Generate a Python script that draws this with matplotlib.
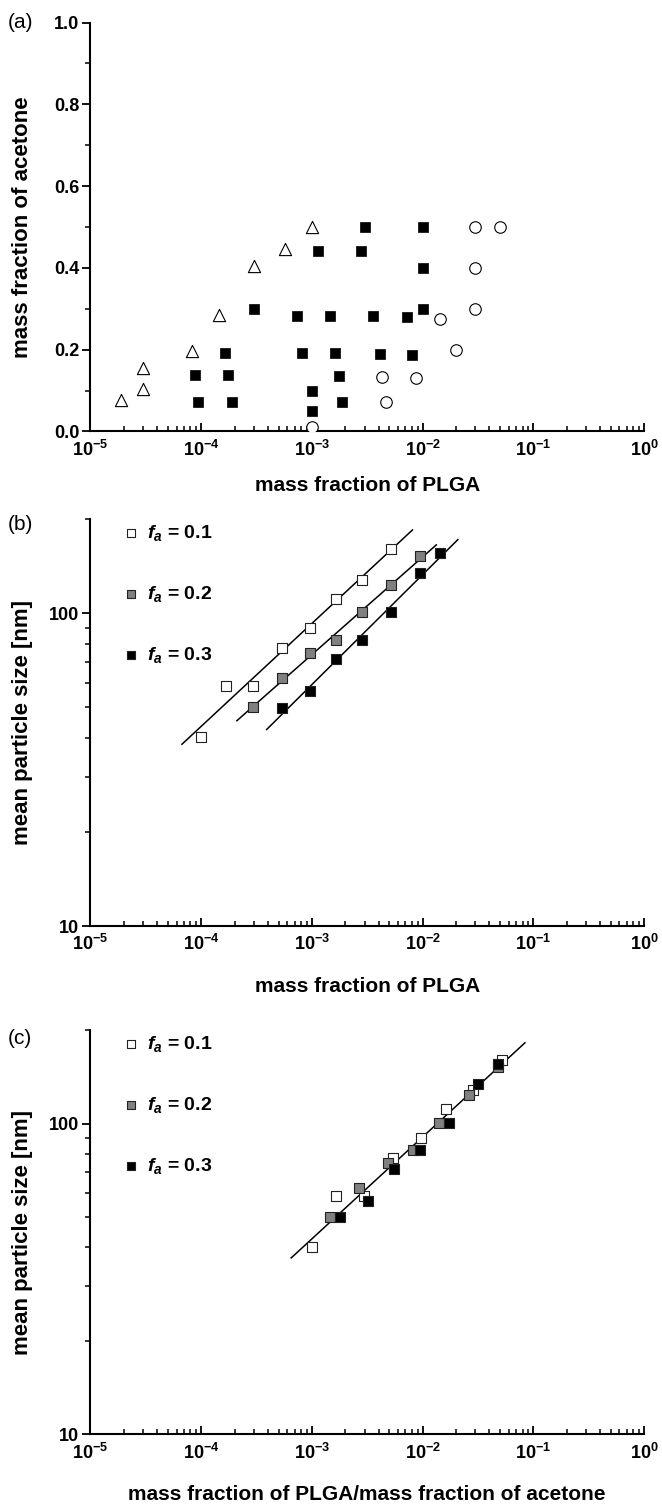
import numpy as np
import matplotlib
matplotlib.use('Agg')
import matplotlib.pyplot as plt
from matplotlib.ticker import LogLocator, FuncFormatter, MultipleLocator, NullFormatter

plt.rcParams['font.family'] = 'Liberation Sans'
plt.rcParams['font.weight'] = 'bold'
plt.rcParams['mathtext.fontset'] = 'custom'
plt.rcParams['mathtext.rm'] = 'Liberation Sans:bold'
plt.rcParams['mathtext.bf'] = 'Liberation Sans:bold'
plt.rcParams['mathtext.it'] = 'Liberation Sans:italic:bold'

# (a) phase diagram
tri_x = [1.9e-5, 3.0e-5, 3.0e-5, 8.2e-5, 1.46e-4, 3.0e-4, 5.7e-4, 1.0e-3]
tri_y = [0.077, 0.103, 0.155, 0.196, 0.286, 0.404, 0.447, 0.50]

sq_x = [3.0e-3, 1.0e-2, 1.13e-3, 2.8e-3, 1.0e-2, 3.0e-4, 7.3e-4, 1.45e-3,
        3.6e-3, 7.2e-3, 1.0e-2, 1.64e-4, 8.2e-4, 1.63e-3, 4.1e-3, 8.1e-3,
        8.8e-5, 1.75e-4, 1.75e-3, 9.4e-5, 1.88e-4, 1.87e-3, 1.0e-3, 1.0e-3]
sq_y = [0.50, 0.50, 0.441, 0.441, 0.40, 0.30, 0.283, 0.283,
        0.283, 0.28, 0.30, 0.192, 0.191, 0.191, 0.19, 0.187,
        0.137, 0.137, 0.136, 0.073, 0.073, 0.073, 0.10, 0.049]

circ_x = [3.0e-2, 5.0e-2, 3.0e-2, 3.0e-2, 1.45e-2, 2.0e-2, 4.3e-3, 8.7e-3, 4.7e-3, 1.0e-3]
circ_y = [0.50, 0.50, 0.40, 0.30, 0.275, 0.20, 0.133, 0.13, 0.071, 0.01]

# (b) particle size vs PLGA fraction
fa = [0.1, 0.2, 0.3]
x_f1 = [1.0e-4, 1.66e-4, 2.93e-4, 5.38e-4, 9.7e-4, 1.64e-3, 2.84e-3, 5.22e-3]
y_f1 = [40.2, 58.5, 58.5, 77.3, 90.0, 111.4, 127.8, 160.6]
x_f2 = [2.93e-4, 5.38e-4, 9.7e-4, 1.64e-3, 2.84e-3, 5.22e-3, 9.55e-3]
y_f2 = [50.1, 62.2, 74.5, 82.2, 100.7, 123.2, 152.5]
x_f3 = [5.38e-4, 9.7e-4, 1.64e-3, 2.84e-3, 5.22e-3, 9.55e-3, 1.45e-2]
y_f3 = [49.9, 56.5, 71.5, 82.2, 100.7, 134.2, 155.9]

# x extent of the fitted lines
b_line_x = [(6.7e-5, 8.1e-3), (2.1e-4, 1.33e-2), (3.9e-4, 2.08e-2)]
c_line_x = (6.5e-4, 8.4e-2)

xs = [x_f1, x_f2, x_f3]
ys = [y_f1, y_f2, y_f3]
faces = ['white', '#808080', 'black']
labels = [r'$\mathit{f}_{\mathit{a}}$ = %.1f' % f for f in fa]

fig = plt.figure(figsize=(6.62, 15.07), dpi=100)
ax_a = fig.add_axes([0.1367, 0.7137, 0.8361, 0.2713])
ax_b = fig.add_axes([0.1367, 0.3855, 0.8361, 0.2701])
ax_c = fig.add_axes([0.1367, 0.0482, 0.8361, 0.2683])

dec_fmt = FuncFormatter(lambda v, p: r'$\mathbf{10^{%d}}$' % int(round(np.log10(v))))


def style(ax):
    ax.spines['top'].set_visible(False)
    ax.spines['right'].set_visible(False)
    for s in ['left', 'bottom']:
        ax.spines[s].set_linewidth(1.5)
    ax.set_xscale('log')
    ax.set_xlim(1e-5, 1)
    ax.xaxis.set_major_locator(LogLocator(base=10, numticks=10))
    ax.xaxis.set_minor_locator(LogLocator(base=10, subs=np.arange(2, 10), numticks=10))
    ax.xaxis.set_major_formatter(dec_fmt)
    ax.xaxis.set_minor_formatter(NullFormatter())
    ax.tick_params(axis='x', which='major', direction='in', length=6, width=1.3,
                   labelsize=13, pad=6)
    ax.tick_params(axis='x', which='minor', direction='in', length=3.5, width=1.1)
    ax.tick_params(axis='y', which='major', direction='out', length=6, width=1.3,
                   labelsize=13, pad=2)
    ax.tick_params(axis='y', which='minor', direction='out', length=3.5, width=1.1)


# panel (a)
style(ax_a)
ax_a.scatter(tri_x, tri_y, marker='^', s=8.8**2, facecolor='white', edgecolor='black', linewidth=0.8, zorder=3)
ax_a.scatter(sq_x, sq_y, marker='s', s=7.9**2, facecolor='black', edgecolor='black', linewidth=0.5, zorder=3)
ax_a.scatter(circ_x, circ_y, marker='o', s=8.3**2, facecolor='white', edgecolor='black', linewidth=0.8, zorder=3)
ax_a.set_ylim(0, 1.0)
ax_a.yaxis.set_major_locator(MultipleLocator(0.2))
ax_a.yaxis.set_minor_locator(MultipleLocator(0.1))
ax_a.yaxis.set_major_formatter(FuncFormatter(lambda v, p: '%.1f' % v))
ax_a.set_xlabel('mass fraction of PLGA', fontsize=15, fontweight='bold')
ax_a.set_ylabel('mass fraction of acetone', fontsize=16, fontweight='bold')
ax_a.xaxis.set_label_coords(0.5, -0.11)
ax_a.yaxis.set_label_coords(-0.103, 0.5)


def size_panel(ax, xlist, line_ranges, xlabel):
    style(ax)
    ax.set_yscale('log')
    ax.set_ylim(10, 200)
    ax.yaxis.set_major_locator(LogLocator(base=10, numticks=5))
    ax.yaxis.set_minor_locator(LogLocator(base=10, subs=np.arange(2, 10), numticks=5))
    ax.yaxis.set_major_formatter(FuncFormatter(lambda v, p: '%d' % v))
    ax.yaxis.set_minor_formatter(NullFormatter())
    for x, y, fc, lab in zip(xlist, ys, faces, labels):
        ax.scatter(x, y, marker='s', s=7.9**2, facecolor=fc, edgecolor='#222222',
                   linewidth=0.8, zorder=3, label=lab)
    for x, y, rng in line_ranges:
        k, b = np.polyfit(np.log10(x), np.log10(y), 1)
        lx = np.array(rng)
        ax.plot(lx, 10 ** (k * np.log10(lx) + b), color='black', lw=1.1, zorder=2)
    ax.set_xlabel(xlabel, fontsize=15, fontweight='bold')
    ax.set_ylabel('mean particle size [nm]', fontsize=16, fontweight='bold')
    ax.xaxis.set_label_coords(0.5, -0.125)
    ax.yaxis.set_label_coords(-0.104, 0.5)
    ax.legend(loc='upper left', bbox_to_anchor=(0.045, 1.014), frameon=False,
              markerscale=0.65, labelspacing=2.1, handlelength=0.6,
              handletextpad=0.5, borderpad=0.0, prop={'size': 14, 'weight': 'bold'})


# panel (b)
size_panel(ax_b, xs, [(x, y, r) for x, y, r in zip(xs, ys, b_line_x)],
           'mass fraction of PLGA')

# panel (c): PLGA fraction divided by acetone fraction
xs_c = [[v / f for v in x] for x, f in zip(xs, fa)]
all_x = sum(xs_c, [])
all_y = sum(ys, [])
size_panel(ax_c, xs_c, [(all_x, all_y, c_line_x)],
           'mass fraction of PLGA/mass fraction of acetone')

for lab, ypix in [('(a)', 22.7), ('(b)', 525), ('(c)', 1038)]:
    fig.text(8 / 662, 1 - ypix / 1507, lab, fontsize=15, fontweight='normal',
             ha='left', va='center')

fig.savefig('out.png', dpi=100, facecolor='white')
